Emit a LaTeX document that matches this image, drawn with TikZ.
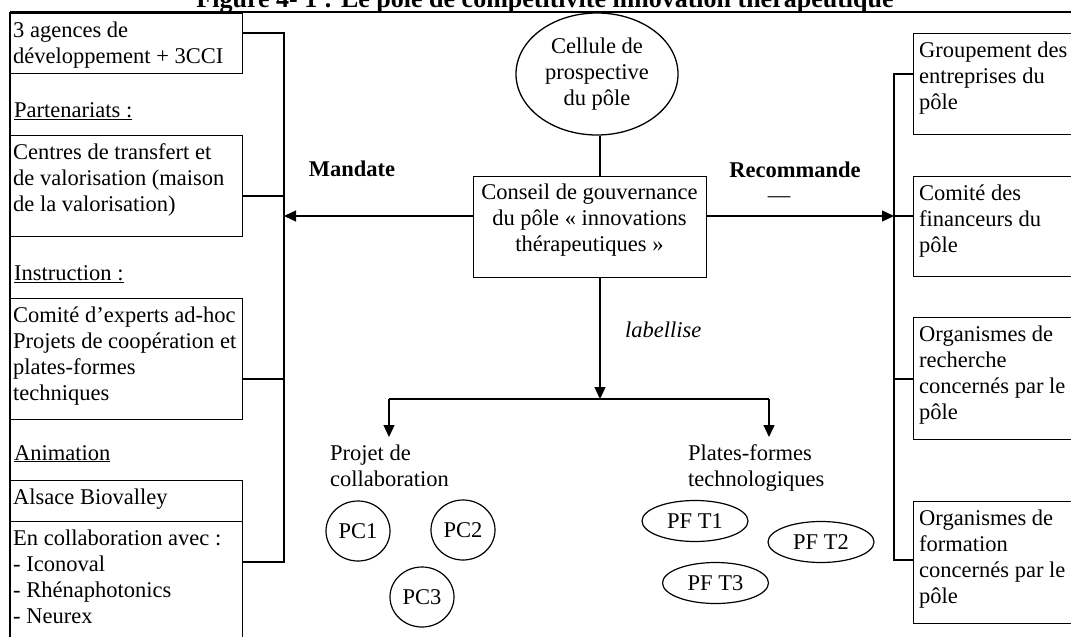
\documentclass[tikz,border=0pt]{standalone}
\usepackage{fontspec}
\setmainfont{Liberation Serif}
\usetikzlibrary{arrows.meta,shapes.geometric}
\begin{document}
\begin{tikzpicture}[x=1pt,y=-1pt,
  every node/.style={font=\fontsize{22.5}{26}\selectfont, inner sep=0pt},
  box/.style={draw, line width=1.3pt, anchor=north west, minimum width=232pt},
  rbox/.style={draw, line width=1.3pt, anchor=north west, minimum width=175pt},
  txt/.style={anchor=north west, align=left},
  lab/.style={anchor=base west},
  bold/.style={font=\fontsize{22.5}{26}\selectfont\bfseries},
  ln/.style={line width=1.3pt},
  arr/.style={line width=1.3pt, -{Triangle[length=12pt,width=11pt]}},
  pc/.style={draw, ellipse, line width=1.2pt, minimum width=64pt, minimum height=60pt},
  pf/.style={draw, ellipse, line width=1.2pt, minimum width=106pt, minimum height=41pt}
]
\useasboundingbox (0,0) rectangle (1071,637);
\clip (0,0) rectangle (1071,637);

% title and top rule
\node[anchor=base, font=\fontsize{26}{30}\selectfont\bfseries] (title) at (545,7)
  {Figure 4- 1 : Le pôle de compétitivité innovation thérapeutique};
\coordinate (tl) at (10,12);
\coordinate (tr) at (1080,12);
\draw[ln] (tl) -- (tr);
\coordinate (bl) at (10,650);
\draw[ln] (tl) -- (bl);

% left column
\node[box, minimum height=60.3pt] (l1) at (10,12.7) {};
\node[txt] (l1t) at (13,18.8) {\strut 3 agences de\\développement + 3CCI};
\node[lab] (p1) at (14,117) {\underline{Partenariats :}};
\node[box, minimum height=101pt] (l2) at (10,135) {};
\node[txt] (l2t) at (13,140.8) {\strut Centres de transfert et\\de valorisation (maison\\de la valorisation)};
\node[lab] (p2) at (14,280) {\underline{Instruction :}};
\node[box, minimum height=121pt] (l3) at (10,298) {};
\node[txt] (l3t) at (13,303.8) {\strut Comité d’experts ad-hoc\\Projets de coopération et\\plates-formes\\techniques};
\node[lab] (p3) at (14,460) {\underline{Animation}};
\node[box, minimum height=41pt] (l4) at (10,480) {};
\node[txt] (l4t) at (13,485.8) {\strut Alsace Biovalley};
\node[box, minimum height=130pt] (l5) at (10,521) {};
\node[txt] (l5t) at (13,526.8) {\strut En collaboration avec :\\- Iconoval\\- Rhénaphotonics\\- Neurex};

% left bracket
\coordinate (lv1) at (284,33);
\coordinate (lv2) at (284,196);
\coordinate (lv3) at (284,379);
\coordinate (lv4) at (284,562);
\draw[ln] (l1.east |- lv1) -- (lv1) -- (lv4) -- (l5.east |- lv4);
\draw[ln] (l2.east |- lv2) -- (lv2);
\draw[ln] (l3.east |- lv3) -- (lv3);

% centre
\node[draw, ellipse, line width=1.3pt, minimum width=162pt, minimum height=122pt, align=center] (cel) at (597,74)
  {Cellule de\\prospective\\du pôle};
\node[box, minimum width=233pt, minimum height=101pt] (cons) at (473,176) {};
\node[anchor=north, align=center] (const) at (589.5,180.8)
  {\strut Conseil de gouvernance\\du pôle « innovations\\thérapeutiques »};
\coordinate (vx) at (600,0);
\coordinate (mid) at (589.5,216);
\draw[ln] (vx |- cel.south) -- (vx |- cons.north);

\node[anchor=base, bold] (mand) at (352,176) {Mandate};
\node[anchor=base, bold] (reco) at (795,177) {Recommande};
\node[anchor=base] (dash) at (779,202.5) {—};
\draw[arr] (cons.west |- mid) -- (lv1 |- mid);

% right column
\coordinate (rv1) at (894,74);
\coordinate (rv2) at (894,216);
\coordinate (rv3) at (894,379);
\coordinate (rv4) at (894,560);
\node[rbox, minimum height=101pt] (r1) at (913,33) {};
\node[txt] (r1t) at (919,38.8) {\strut Groupement des\\entreprises du\\pôle};
\node[rbox, minimum height=100pt] (r2) at (913,176) {};
\node[txt] (r2t) at (919,181.8) {\strut Comité des\\financeurs du\\pôle};
\node[rbox, minimum height=122pt] (r3) at (913,317) {};
\node[txt] (r3t) at (919,322.8) {\strut Organismes de\\recherche\\concernés par le\\pôle};
\node[rbox, minimum height=122pt] (r4) at (913,501) {};
\node[txt] (r4t) at (919,506.8) {\strut Organismes de\\formation\\concernés par le\\pôle};
\draw[arr] (cons.east |- mid) -- (rv2);
\draw[ln] (r1.west |- rv1) -- (rv1) -- (rv4) -- (r4.west |- rv4);
\draw[ln] (rv2) -- (r2.west |- rv2);
\draw[ln] (rv3) -- (r3.west |- rv3);

% bottom part
\coordinate (jct) at (600,399);
\coordinate (lft) at (389,399);
\coordinate (rgt) at (769,399);
\node[anchor=base west, font=\fontsize{22.5}{26}\selectfont\itshape] (labl) at (625,337) {labellise};
\draw[arr] (vx |- cons.south) -- (jct);
\draw[ln] (lft) -- (rgt);
\node[txt] (proj) at (330,441.8) {\strut Projet de\\collaboration};
\node[txt] (plat) at (688,441.8) {\strut Plates-formes\\technologiques};
\draw[arr] (lft) -- ++(0,38);
\draw[arr] (rgt) -- ++(0,38);

\node[pc] (pc1) at (358,531) {PC1};
\node[pc] (pc2) at (463,530) {PC2};
\node[pc] (pc3) at (422,597) {PC3};
\node[pf] (pf1) at (695,521) {PF T1};
\node[pf] (pf2) at (821,542) {PF T2};
\node[pf] (pf3) at (715.5,583) {PF T3};
\end{tikzpicture}
\end{document}
